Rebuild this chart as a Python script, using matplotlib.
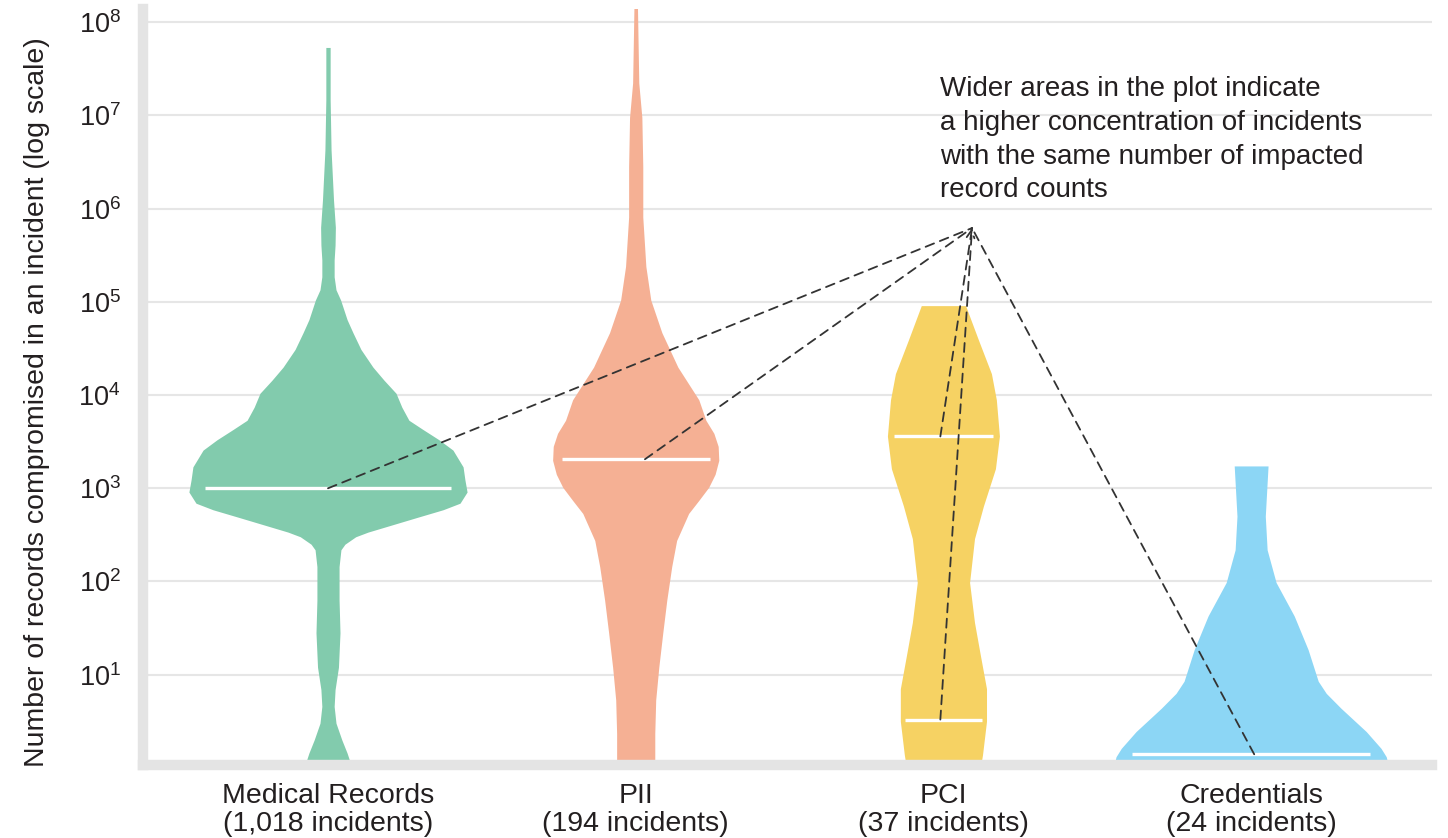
import numpy as np
import matplotlib.pyplot as plt

plt.rcParams['font.family'] = ['Liberation Sans', 'DejaVu Sans']
plt.rcParams['mathtext.default'] = 'regular'

categories = ["Medical Records", "PII", "PCI", "Credentials"]
incidents = ["1,018", "194", "37", "24"]
colors = ["#82cbad", "#f5b094", "#f6d263", "#8cd6f5"]

# violin outlines: log10(records) -> half width (category units)
med_log = [7.73, 7.17, 6.63, 6.09, 5.80, 5.61, 5.45, 5.27, 5.13, 5.02, 4.81, 4.67,
           4.49, 4.30, 4.16, 4.02, 3.87, 3.73, 3.63, 3.52, 3.41, 3.23, 3.09, 2.96,
           2.84, 2.77, 2.69, 2.61, 2.53, 2.48, 2.40, 2.34, 2.16, 1.80, 1.45, 1.08,
           0.84, 0.66, 0.48, 0.30, 0.16, 0.0]
med_half = [0.007, 0.007, 0.010, 0.018, 0.024, 0.023, 0.020, 0.020, 0.026, 0.041,
            0.062, 0.081, 0.107, 0.146, 0.182, 0.221, 0.240, 0.263, 0.309, 0.361,
            0.406, 0.439, 0.445, 0.452, 0.429, 0.374, 0.292, 0.211, 0.130, 0.090,
            0.055, 0.042, 0.036, 0.036, 0.039, 0.034, 0.023, 0.020, 0.026, 0.045,
            0.062, 0.078]

pii_log = [8.30, 7.35, 6.98, 6.45, 5.91, 5.38, 5.02, 4.67, 4.30, 3.95, 3.73, 3.59,
           3.45, 3.30, 3.15, 3.01, 2.87, 2.73, 2.44, 2.16, 1.80, 1.45, 1.08, 0.73,
           0.37, 0.0]
pii_half = [0.005, 0.010, 0.020, 0.023, 0.023, 0.033, 0.049, 0.085, 0.137, 0.205,
            0.228, 0.254, 0.268, 0.270, 0.258, 0.237, 0.205, 0.172, 0.133, 0.117,
            0.101, 0.088, 0.075, 0.065, 0.062, 0.062]

pci_log = [4.96, 4.59, 4.23, 3.95, 3.56, 3.21, 2.81, 2.46, 1.99, 1.56, 1.21, 0.85,
           0.50, 0.14, 0.0]
pci_half = [0.072, 0.114, 0.156, 0.172, 0.182, 0.169, 0.130, 0.101, 0.085, 0.101,
            0.120, 0.140, 0.140, 0.127, 0.120]

cred_log = [3.24, 3.06, 2.70, 2.34, 1.99, 1.63, 1.27, 0.93, 0.80, 0.64, 0.39, 0.21,
            0.12, 0.0]
cred_half = [0.055, 0.052, 0.046, 0.052, 0.081, 0.140, 0.185, 0.218, 0.244, 0.292,
             0.374, 0.422, 0.439, 0.448]

profiles = [(med_log, med_half), (pii_log, pii_half),
            (pci_log, pci_half), (cred_log, cred_half)]

# white lines drawn across each violin
medians = [[1000], [2050], [3600, 3.3], [1.4]]

note = ("Wider areas in the plot indicate\n"
        "a higher concentration of incidents\n"
        "with the same number of impacted\n"
        "record counts")
note_tip = (2.093, 6.2e5)

fig = plt.figure(figsize=(14.48, 8.38), dpi=100)
ax = fig.add_axes([0.0988, 0.0871, 0.8902, 0.9022])

for i, (lg, hw) in enumerate(profiles):
    y = 10 ** np.array(lg)
    hw = np.array(hw)
    ax.fill_betweenx(y, i - hw, i + hw, color=colors[i], lw=0, zorder=2)
    for m in medians[i]:
        w = 0.89 * np.interp(np.log10(m), lg[::-1], hw[::-1])
        ax.plot([i - w, i + w], [m, m], color="white", lw=2.4,
                solid_capstyle="butt", zorder=3)

# dashed pointers from the note to each white line
ends = [(0.0, 1000), (1.03, 2050), (1.99, 3600), (1.99, 3.3), (3.01, 1.4)]
for k, (ex, ey) in enumerate(ends):
    ax.annotate("", xy=note_tip, xytext=(ex, ey),
                arrowprops=dict(arrowstyle="->" if k == 2 else "-",
                                color="#333333", lw=1.3, ls=(0, (5, 3.5)),
                                shrinkA=0, shrinkB=0, mutation_scale=14),
                zorder=4)

ax.text(1.989, 10 ** 7.42, note, ha="left", va="top", fontsize=20,
        color="#231f20", linespacing=1.38)

ax.set_yscale("log")
ax.set_ylim(10 ** 0.031, 10 ** 8.143)
ax.set_xlim(-0.601, 3.588)
ax.set_yticks([10 ** k for k in range(1, 9)])
ax.minorticks_off()
ax.set_xticks(range(4))
ax.set_xticklabels([f"{c}\n({n} incidents)" for c, n in zip(categories, incidents)],
                   linespacing=1.08)
ax.tick_params(length=0, labelcolor="#231f20")
ax.tick_params(axis="y", pad=16, labelsize=19.5)
ax.tick_params(axis="x", pad=13, labelsize=20.5)

ax.yaxis.grid(True, color="#e6e6e6", lw=1.5)
ax.set_axisbelow(True)
for s in ["top", "right"]:
    ax.spines[s].set_visible(False)
for s in ["left", "bottom"]:
    ax.spines[s].set_color("#e4e4e4")
    ax.spines[s].set_linewidth(7.5)
    ax.spines[s].set_capstyle("projecting")

ax.set_ylabel("Number of records compromised in an incident (log scale)",
              fontsize=20.5, color="#231f20")
ax.yaxis.set_label_coords(-0.082, 0.48)
ax.yaxis.label.set_va("center")

plt.savefig("out.png", dpi=100)
